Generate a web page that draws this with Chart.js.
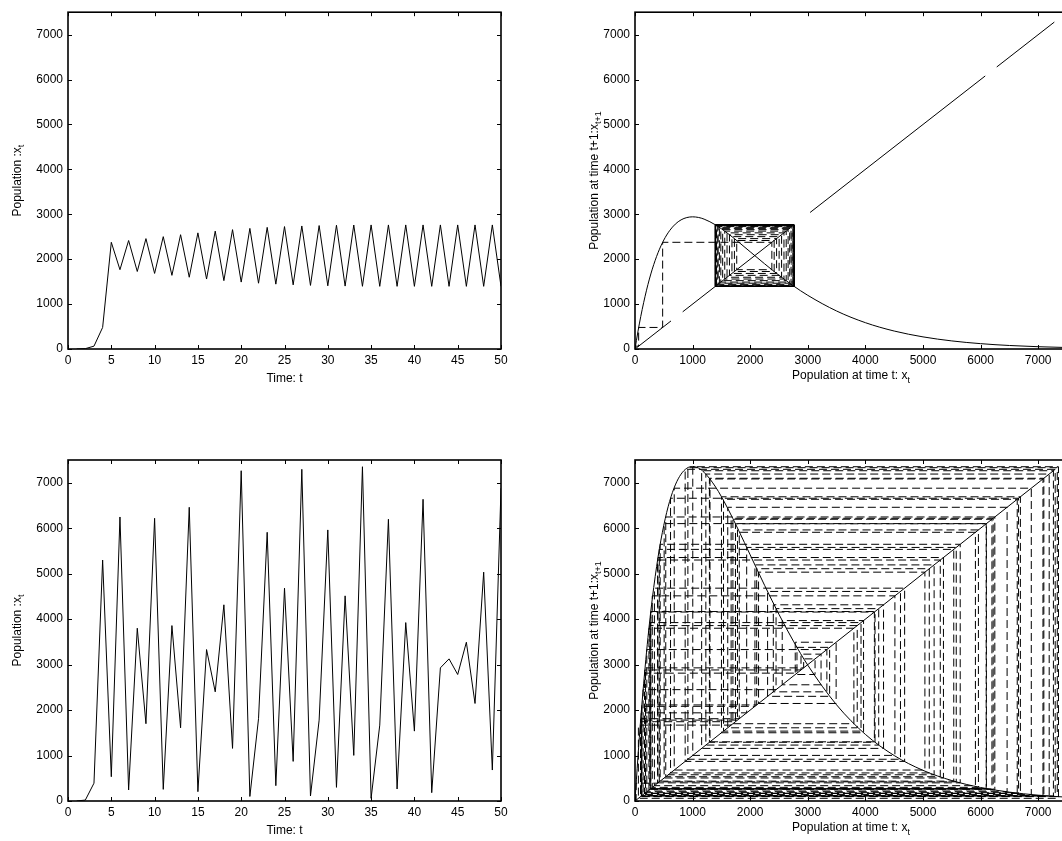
<!DOCTYPE html>
<html><head><meta charset="utf-8">
<script src="https://cdn.jsdelivr.net/npm/chart.js@4/dist/chart.umd.min.js"></script>
<style>
html,body{margin:0;padding:0;background:#fff;overflow:hidden;width:1062px;height:841px;}
canvas{position:absolute;left:0;top:0;}
</style></head><body>
<canvas id="tl" width="1100" height="841"></canvas>
<canvas id="tr" width="1100" height="841"></canvas>
<canvas id="bl" width="1100" height="841"></canvas>
<canvas id="br" width="1100" height="841"></canvas>
<script>
// ---- data ----
const timeT = [1,2,3,4,5,6,7,8,9,10,11,12,13,14,15,16,17,18,19,20,21,22,23,24,25,26,27,28,29,30,31,32,33,34,35,36,37,38,39,40,41,42,43,44,45,46,47,48,49,50,
               51,52,53,54,55,56,57,58,59,60,61,62,63,64,65,66,67,68,69,70,71,72,73,74,75,76,77,78,79,80,81,82,83,84,85,86,87,88,89,90,91,92,93,94,95,96,97,98,99,100];
const timeTicks = [0,5,10,15,20,25,30,35,40,45,50];
const popTicks = [0,1000,2000,3000,4000,5000,6000,7000];
const popStable = [1,8,63,480,2376,1766,2416,1726,2458,1683,2502,1640,2545,1598,2586,1558,2625,1522,2658,1490,2686,1465,2709,1444,2726,1428,2740,1416,2749,1407,2756,1401,2761,1396,2763,1395,2763,1395,2763,1395,2763,1395,2763,1395,2763,1395,2763,1395,2763,1395];
const popChaos = [1,20,392,5300,534,6247,242,3800,1700,6218,256,3858,1610,6460,205,3331,2401,4315,1157,7264,100,1810,5910,337,4681,871,7295,110,1779,5962,300,4512,1003,7352,59,1669,6197,264,3924,1537,6636,183,2928,3126,2782,3492,2145,5033,681,6880];
// later states (t > 50) that only show up in the lower-right cobweb, estimated from it
const popChaosLater = [141,2449,4231,1230,7191,108,1939,5577,422,5534,437,5646,399,5355,506,6101,273,4156,1302,7083,119,2113,5109,617,6659,171,2882,3230,2556,3968,1501,6691,166,2812,3379,2302,4609,918,7331,96,1744,6097,274,4167,1292,7098,117,2082,5193,577];
const curveX = [0,50,100,200,300,400,500,600,700,800,900,1000,1100,1200,1400,1600,1800,2000,2250,2500,2750,3000,3500,4000,4500,5000,5500,6000,6500,7000,7500];
const curveStable = [0,380,724,1310,1778,2145,2426,2634,2781,2876,2927,2943,2930,2892,2762,2584,2380,2165,1897,1642,1406,1195,846,586,400,270,180,119,78,51,33];
const curveChaos = [0,951,1810,3275,4445,5363,6065,6586,6952,7189,7319,7358,7324,7229,6905,6460,5950,5413,4743,4104,3516,2987,2114,1465,1000,674,450,297,195,128,83];
// visible pieces of the y = x reference line in the upper-right panel
const diagPiecesTop = [[0,625],[828,2762],[3040,6080],[6280,7280]];
const diagEnds = [0,7300];

// ---- helpers ----
const FONT = '"Liberation Sans", Arial, Helvetica, sans-serif';
Chart.defaults.font.family = FONT;
Chart.defaults.font.size = 12;
Chart.defaults.color = '#000';

function pairs(xs, ys){ return xs.map((v,i)=>({x:v,y:ys[i]})); }
function cobweb(s){
  const pts=[{x:s[0],y:0}];
  for(let i=0;i<s.length-1;i++){
    pts.push({x:s[i],y:s[i+1]});
    pts.push({x:s[i+1],y:s[i+1]});
  }
  return pts;
}
function pieces(list){
  const pts=[];
  list.forEach((p,i)=>{ if(i>0) pts.push({x:NaN,y:NaN}); pts.push({x:p[0],y:p[0]}); pts.push({x:p[1],y:p[1]}); });
  return pts;
}

function drawSub(ctx, parts, x, y, rotate){
  ctx.save();
  ctx.translate(x,y);
  if(rotate) ctx.rotate(-Math.PI/2);
  ctx.fillStyle='#000';
  ctx.textBaseline='alphabetic';
  ctx.textAlign='left';
  let w=0;
  parts.forEach(p=>{ctx.font=(p.sub?'9px ':'12px ')+FONT; w+=ctx.measureText(p.t).width;});
  let cx=-w/2;
  parts.forEach(p=>{
    ctx.font=(p.sub?'9px ':'12px ')+FONT;
    ctx.fillText(p.t,cx,p.sub?3.5:0);
    cx+=ctx.measureText(p.t).width;
  });
  ctx.restore();
}

const boxPlugin = {
  id:'matbox',
  afterDraw(chart, args, o){
    const {ctx, chartArea:a, scales:{x,y}} = chart;
    ctx.save();
    ctx.strokeStyle='#000';
    ctx.lineWidth=1;
    const tl=4;
    ctx.beginPath();
    x.ticks.forEach(t=>{const p=Math.round(x.getPixelForValue(t.value))+0.5;
      ctx.moveTo(p,a.bottom);ctx.lineTo(p,a.bottom-tl);ctx.moveTo(p,a.top);ctx.lineTo(p,a.top+tl);});
    y.ticks.forEach(t=>{const p=Math.round(y.getPixelForValue(t.value))+0.5;
      ctx.moveTo(a.left,p);ctx.lineTo(a.left+tl,p);ctx.moveTo(a.right,p);ctx.lineTo(a.right-tl,p);});
    ctx.stroke();
    ctx.lineWidth=1.6;
    ctx.strokeRect(a.left,a.top,a.right-a.left,a.bottom-a.top);
    ctx.restore();
    drawSub(ctx,o.xTitle,(a.left+a.right)/2,o.xBase,false);
    drawSub(ctx,o.yTitle,o.yBase,(a.top+a.bottom)/2,true);
  }
};

function makeChart(id, area, xMax, xTickList, datasets, titles){
  const yW=62, xH=32;
  return new Chart(document.getElementById(id), {
    type:'scatter',
    data:{datasets},
    options:{
      responsive:false, animation:false,
      events:[],
      spanGaps:false,
      layout:{padding:{left:area.L-yW, top:area.T, right:1100-area.R, bottom:841-area.B-xH}},
      plugins:{legend:{display:false}, tooltip:{enabled:false}, matbox:titles},
      scales:{
        x:{type:'linear', min:0, max:xMax, afterFit:s=>{s.height=xH;},
           grid:{display:false, drawTicks:false, tickLength:0}, border:{display:false},
           afterBuildTicks:s=>{s.ticks=xTickList.map(v=>({value:v}));},
           ticks:{padding:4, autoSkip:false, maxRotation:0, minRotation:0, color:'#000', font:{size:12}, callback:v=>String(v)}},
        y:{type:'linear', min:0, max:7500, afterFit:s=>{s.width=yW;},
           grid:{display:false, drawTicks:false, tickLength:0}, border:{display:false},
           afterBuildTicks:s=>{s.ticks=popTicks.map(v=>({value:v}));},
           ticks:{padding:5, autoSkip:false, color:'#000', font:{size:12}, callback:v=>String(v)}}
      }
    },
    plugins:[boxPlugin]
  });
}

const solid = (data)=>({data, showLine:true, borderColor:'#000', borderWidth:1, pointRadius:0, tension:0, fill:false, spanGaps:false});
const curve = (data)=>({data, showLine:true, borderColor:'#000', borderWidth:1, pointRadius:0, cubicInterpolationMode:'monotone', fill:false});
const dashed = (data)=>({data, showLine:true, borderColor:'#000', borderWidth:1, pointRadius:0, tension:0, borderDash:[8,4], fill:false});

const tY = [{t:'Population :x'},{t:'t',sub:true}];
const tX = [{t:'Time: t'}];
const cY = [{t:'Population at time t+1:x'},{t:'t+1',sub:true}];
const cX = [{t:'Population at time t: x'},{t:'t',sub:true}];

const chaosAll = popChaos.concat(popChaosLater);

makeChart('tl',{L:68,R:501,T:8,B:349},50,timeTicks,[solid(pairs(timeT,popStable))],
  {xTitle:tX,yTitle:tY,xBase:382,yBase:20.5});
makeChart('tr',{L:635,R:1067,T:8,B:349},7500,popTicks,[
  dashed(cobweb(popStable)),
  curve(pairs(curveX,curveStable)),
  solid(pieces(diagPiecesTop))],
  {xTitle:cX,yTitle:cY,xBase:379,yBase:597.5});
makeChart('bl',{L:68,R:501,T:460,B:801},50,timeTicks,[solid(pairs(timeT,chaosAll))],
  {xTitle:tX,yTitle:tY,xBase:834,yBase:20.5});
makeChart('br',{L:635,R:1067,T:460,B:801},7500,popTicks,[
  dashed(cobweb(chaosAll)),
  curve(pairs(curveX,curveChaos)),
  solid(pairs(diagEnds,diagEnds))],
  {xTitle:cX,yTitle:cY,xBase:831,yBase:597.5});
</script>
</body></html>
